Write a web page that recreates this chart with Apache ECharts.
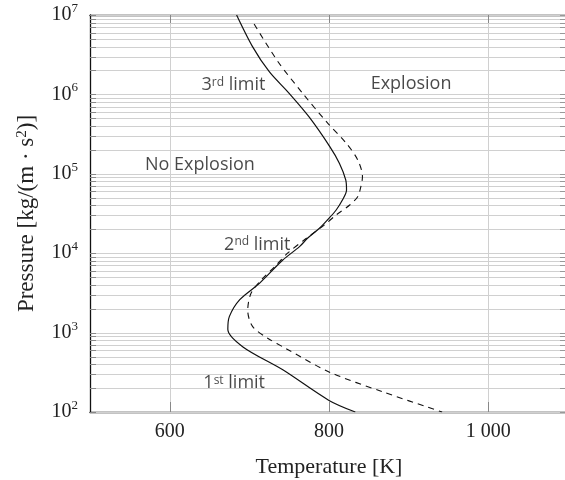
<!DOCTYPE html>
<html>
<head>
<meta charset="utf-8">
<script src="https://cdn.jsdelivr.net/npm/echarts@6/dist/echarts.min.js"></script>
<style>
  html, body { margin: 0; padding: 0; background: #fff; }
  #chart { width: 565px; height: 480px; }
</style>
</head>
<body>
<div id="chart"></div>
<script>
// explosion limits, temperature [K] vs pressure
var solidT = [684, 704, 725, 750, 775, 801, 813, 821, 822, 817, 809, 798, 788, 773, 763, 742, 713, 688, 675, 673, 692, 742, 800, 833];
var solidP = [1.0e7, 4.0e6, 1.93e6, 1.03e6, 5.2e5, 2.2e5, 1.36e5, 8.4e4, 6.25e4, 4.7e4, 3.5e4, 2.62e4, 2.06e4, 1.54e4, 1.21e4, 8.2e3, 4.2e3, 2.6e3, 1.6e3, 1.1e3, 660, 340, 140, 100];

var dashT = [706, 736, 767, 797, 822, 836, 842, 840, 836, 826, 809, 794, 770, 748, 732, 715, 702, 698, 704, 723, 746, 800, 867, 942];
var dashP = [7.7e6, 2.58e6, 1.03e6, 4.5e5, 2.4e5, 1.5e5, 9.2e4, 6.9e4, 5.15e4, 4.05e4, 3.03e4, 2.26e4, 1.5e4, 1.0e4, 6.8e3, 4.6e3, 3.1e3, 1.9e3, 1.2e3, 850, 630, 320, 180, 100];

var xTickValues = [600, 800, 1000];
var xTickLabels = ['600', '800', '1 000'];
var yTickValues = [1e2, 1e3, 1e4, 1e5, 1e6, 1e7];
var yTickExps = ['2', '3', '4', '5', '6', '7'];

// text inside the plot: [T, P, text]
var notes = [
  [680, 1.3e6, '3{s|rd} limit'],
  [903, 1.37e6, 'Explosion'],
  [638, 1.3e5, 'No Explosion'],
  [710, 1.29e4, '2{s|nd} limit'],
  [681, 230, '1{s|st} limit']
];

var xMin = 500, xMax = 1100;

// 2..9 x 10^n lines of the log grid
var yMinor = [];
yTickValues.slice(0, 5).forEach(function (d) {
  for (var k = 2; k <= 9; k++) yMinor.push(k * d);
});
var yAll = yTickValues.concat(yMinor);

function pairs(a, b) {
  return a.map(function (v, i) { return [v, b[i]]; });
}

var serif = '"Liberation Serif", "DejaVu Serif", serif';
var sans = '"Open Sans", "Noto Sans", sans-serif';

var chart = echarts.init(document.getElementById('chart'));

chart.setOption({
  animation: false,
  grid: { left: 90, right: -3, top: 15, bottom: 68, outerBoundsMode: 'none', containLabel: false },
  xAxis: [
    {
      type: 'value',
      min: xMin,
      max: xMax,
      interval: 100,
      name: 'Temperature [K]',
      nameLocation: 'middle',
      nameGap: 44,
      nameTextStyle: { fontFamily: serif, fontSize: 22, color: '#222' },
      axisLine: { lineStyle: { color: '#111', width: 1.3 } },
      axisTick: { show: false },
      splitLine: { show: false },
      axisLabel: {
        margin: 10,
        fontFamily: serif,
        fontSize: 20,
        color: '#222',
        formatter: function (v) {
          var i = xTickValues.indexOf(v);
          return i >= 0 ? xTickLabels[i] : '';
        }
      }
    },
    {
      type: 'value',
      position: 'top',
      min: xMin,
      max: xMax,
      axisLine: { lineStyle: { color: '#111', width: 1.3 } },
      axisTick: { show: false },
      axisLabel: { show: false },
      splitLine: { show: false }
    }
  ],
  yAxis: {
    type: 'log',
    logBase: 10,
    min: 100,
    max: 1e7,
    name: 'Pressure [kg/(m · s{s|2})]',
    nameLocation: 'middle',
    nameGap: 52,
    nameRotate: 90,
    nameTextStyle: {
      fontFamily: serif, fontSize: 23, color: '#222',
      rich: { s: { fontFamily: serif, fontSize: 15, verticalAlign: 'top', lineHeight: 15, color: '#222' } }
    },
    axisLine: { show: true, lineStyle: { color: '#111', width: 1.3 } },
    axisTick: { show: false },
    splitLine: { show: false },
    axisLabel: {
      margin: 12,
      color: '#222',
      formatter: function (v) {
        var i = yTickValues.indexOf(v);
        return i >= 0 ? '{b|10}{s|' + yTickExps[i] + '}' : '';
      },
      rich: {
        b: { fontFamily: serif, fontSize: 20, lineHeight: 26, color: '#222' },
        s: { fontFamily: serif, fontSize: 13, lineHeight: 13, verticalAlign: 'top', color: '#222' }
      }
    }
  },
  series: [
    {
      // log grid lines and short ticks on both sides
      type: 'custom',
      silent: true,
      z: 1,
      data: yAll.map(function (v) { return [xMin, v]; }),
      encode: { x: 0, y: 1 },
      renderItem: function (params, api) {
        var p0 = api.coord([xMin, api.value(1)]);
        var p1 = api.coord([xMax, api.value(1)]);
        var y = Math.round(p0[1]) + 0.5;
        return {
          type: 'group',
          children: [
            { type: 'line', shape: { x1: p0[0], y1: y, x2: p1[0], y2: y }, style: { stroke: '#d0d0d0', lineWidth: 1 } },
            { type: 'line', shape: { x1: p0[0], y1: y, x2: p0[0] + 6, y2: y }, style: { stroke: '#888', lineWidth: 1 } },
            { type: 'line', shape: { x1: p1[0] - 8, y1: y, x2: p1[0], y2: y }, style: { stroke: '#999', lineWidth: 1 } }
          ]
        };
      }
    },
    {
      // vertical grid lines and ticks at top and bottom
      type: 'custom',
      silent: true,
      z: 1,
      data: xTickValues.map(function (v) { return [v, 100]; }),
      encode: { x: 0, y: 1 },
      renderItem: function (params, api) {
        var p0 = api.coord([api.value(0), 100]);
        var p1 = api.coord([api.value(0), 1e7]);
        var x = Math.round(p0[0]) + 0.5;
        return {
          type: 'group',
          children: [
            { type: 'line', shape: { x1: x, y1: p0[1], x2: x, y2: p1[1] }, style: { stroke: '#d0d0d0', lineWidth: 1 } },
            { type: 'line', shape: { x1: x, y1: p0[1], x2: x, y2: p0[1] - 10 }, style: { stroke: '#888', lineWidth: 1 } },
            { type: 'line', shape: { x1: x, y1: p1[1], x2: x, y2: p1[1] + 8 }, style: { stroke: '#888', lineWidth: 1 } }
          ]
        };
      }
    },
    {
      name: 'solid',
      type: 'line',
      z: 5,
      data: pairs(solidT, solidP),
      showSymbol: false,
      smooth: 0.3,
      lineStyle: { color: '#111', width: 1.2 }
    },
    {
      name: 'dashed',
      type: 'line',
      z: 5,
      data: pairs(dashT, dashP),
      showSymbol: false,
      smooth: 0.3,
      lineStyle: { color: '#111', width: 1.1, type: [6, 5] }
    },
    {
      type: 'scatter',
      z: 6,
      silent: true,
      symbolSize: 0,
      data: notes,
      label: {
        show: true,
        position: 'inside',
        formatter: function (p) { return p.data[2]; },
        fontFamily: sans,
        fontSize: 18,
        color: '#1a1a1a',
        rich: {
          s: { fontFamily: sans, fontSize: 12, lineHeight: 12, verticalAlign: 'top', color: '#1a1a1a' }
        }
      }
    }
  ]
});
</script>
</body>
</html>
